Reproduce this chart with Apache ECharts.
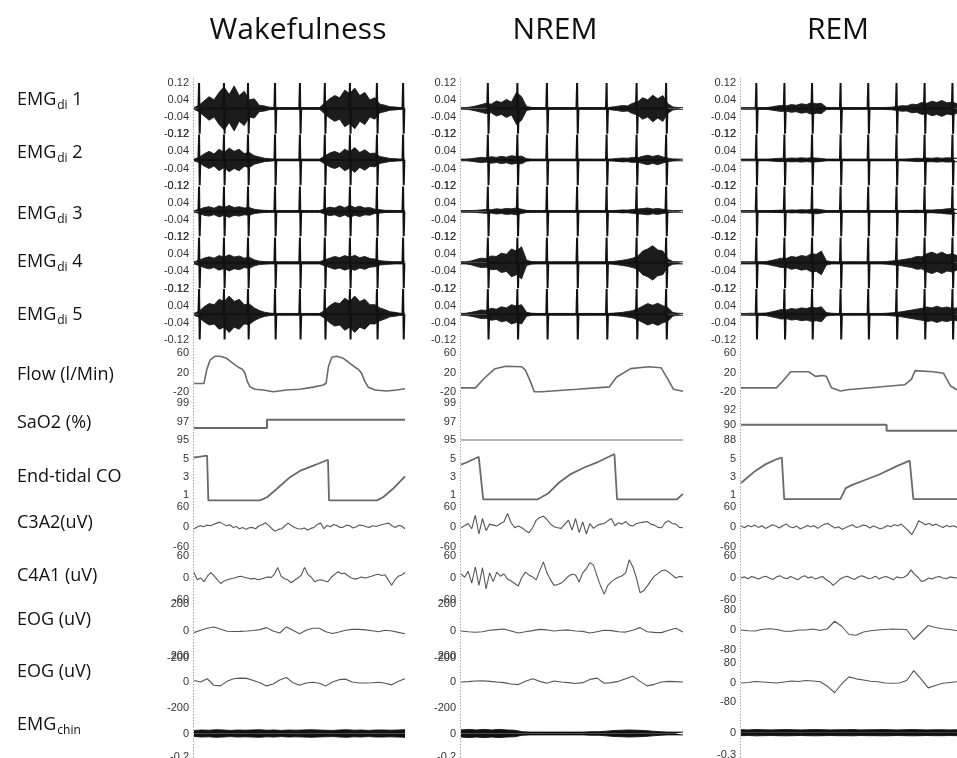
<!DOCTYPE html>
<html>
<head>
<meta charset="utf-8">
<script src="https://cdn.jsdelivr.net/npm/echarts@6/dist/echarts.min.js"></script>
<style>
  html, body { margin: 0; padding: 0; background: #fff; }
  #chart { width: 957px; height: 758px; }
</style>
</head>
<body>
<div id="chart"></div>
<script>
// ---------- data (x = % of each stage window) ----------
const stages = ['Wakefulness', 'NREM', 'REM'];
const channels = ['EMG{s|di} 1', 'EMG{s|di} 2', 'EMG{s|di} 3', 'EMG{s|di} 4', 'EMG{s|di} 5',
  'Flow (l/Min)', 'SaO2 (%)', 'End-tidal CO', 'C3A2(uV)', 'C4A1 (uV)', 'EOG (uV)', 'EOG (uV)', 'EMG{s|chin}'];

// tick labels
const emgTicks = [-0.12, -0.04, 0.04, 0.12];
const flowTicks = [-20, 20, 60];
const sao2TicksWake = [95, 97, 99];
const sao2TicksRem = [88, 90, 92];
const etco2Ticks = [1, 3, 5];
const eegTicks = [-60, 0, 60];
const eogTicksWake = [-200, 0, 200];
const eogTicksRem = [-80, 0, 80];
const chinTicksWake = [-0.2, 0];
const chinTicksRem = [-0.3, 0];

// ECG artefact (QRS) times in the diaphragm EMG
const spikesWake = [2.4, 14.2, 25.6, 38.4, 50.2, 62, 73.9, 86.7, 99.1];
const spikesNrem = [12.1, 25.4, 38.7, 52.3, 65.6, 79.1, 92.4];
const spikesRem = [7.1, 20.1, 32.9, 46.1, 58.9, 72, 85, 97.9];
const spikeAmp = [0.118, 0.118, 0.116, 0.118, 0.118];

// EMGdi envelopes (half amplitude, uniform samples)
const emgWake1 = [.004,.015,.035,.055,.04,.075,.1,.065,.105,.06,.08,.04,.045,.015,.012,.006,.005,.004,.004,.004,.004,.004,.004,.004,.004,.004,.025,.045,.06,.05,.085,.07,.095,.06,.075,.04,.05,.02,.015,.008,.007,.004,.004];
const emgWake2 = [.004,.012,.028,.04,.028,.05,.035,.055,.04,.05,.03,.035,.02,.014,.008,.006,.004,.004,.004,.004,.004,.004,.004,.004,.004,.004,.018,.032,.04,.03,.05,.038,.058,.035,.048,.03,.032,.016,.012,.007,.006,.004,.004];
const emgWake3 = [.004,.009,.018,.022,.015,.026,.018,.028,.018,.022,.016,.018,.01,.007,.005,.004,.004,.004,.004,.004,.004,.004,.004,.004,.004,.004,.012,.02,.016,.026,.017,.028,.018,.024,.016,.018,.01,.008,.005,.005,.004,.004,.004];
const emgWake4 = [.005,.012,.022,.028,.022,.034,.026,.038,.027,.032,.022,.026,.014,.008,.006,.005,.005,.005,.005,.005,.005,.005,.005,.005,.005,.005,.014,.022,.03,.024,.034,.026,.035,.024,.03,.02,.018,.01,.008,.006,.005,.005,.005];
const emgWake5 = [.004,.014,.035,.05,.045,.07,.06,.085,.06,.07,.045,.048,.03,.018,.01,.006,.004,.004,.004,.004,.004,.004,.004,.004,.004,.004,.018,.04,.055,.05,.075,.06,.085,.06,.07,.045,.045,.03,.022,.012,.009,.005,.004];

const emgNrem1 = [.004,.004,.007,.012,.018,.024,.02,.035,.028,.042,.03,.075,.055,.009,.005,.004,.004,.004,.004,.004,.004,.004,.004,.004,.004,.004,.004,.004,.004,.004,.007,.01,.014,.012,.024,.03,.05,.04,.062,.045,.06,.022,.007,.004,.004];
const emgNrem2 = [.004,.004,.006,.009,.012,.01,.015,.012,.017,.013,.02,.016,.018,.006,.004,.004,.004,.004,.004,.004,.004,.004,.004,.004,.004,.004,.004,.004,.004,.004,.005,.007,.009,.008,.012,.01,.017,.022,.016,.022,.014,.008,.005,.004,.004];
const emgNrem3 = [.004,.004,.004,.005,.007,.009,.008,.012,.01,.014,.012,.016,.01,.005,.004,.004,.004,.004,.004,.004,.004,.004,.004,.004,.004,.004,.004,.004,.004,.004,.004,.005,.007,.006,.009,.011,.013,.016,.011,.014,.01,.006,.004,.004,.004];
const emgNrem4 = [.005,.005,.009,.016,.022,.02,.032,.03,.045,.04,.065,.055,.075,.012,.006,.005,.005,.005,.005,.005,.005,.005,.005,.005,.005,.005,.005,.005,.005,.005,.006,.009,.012,.016,.022,.03,.055,.065,.08,.06,.055,.018,.006,.005,.005];
const emgNrem5 = [.004,.005,.009,.014,.02,.018,.028,.024,.035,.03,.045,.038,.045,.009,.005,.004,.004,.004,.004,.004,.004,.004,.004,.004,.004,.004,.004,.004,.004,.004,.005,.007,.009,.013,.017,.026,.038,.05,.042,.052,.04,.032,.008,.005,.004];

const emgRem1 = [.004,.004,.004,.004,.004,.004,.007,.011,.014,.012,.018,.015,.022,.018,.027,.022,.024,.005,.004,.004,.004,.004,.004,.004,.004,.004,.004,.004,.004,.005,.006,.009,.013,.012,.02,.018,.028,.024,.034,.028,.037,.026,.03,.022];
const emgRem2 = [.004,.004,.004,.004,.004,.004,.005,.007,.008,.007,.009,.008,.01,.008,.01,.009,.007,.004,.004,.004,.004,.004,.004,.004,.004,.004,.004,.004,.004,.004,.004,.004,.004,.005,.006,.008,.007,.009,.008,.01,.008,.01,.009,.008];
const emgRem3 = [.004,.004,.004,.004,.004,.004,.004,.005,.006,.005,.007,.006,.008,.007,.009,.011,.008,.004,.004,.004,.004,.004,.004,.004,.004,.004,.004,.004,.004,.004,.004,.004,.004,.004,.005,.006,.005,.007,.006,.008,.009,.012,.013,.009];
const emgRem4 = [.005,.005,.005,.005,.005,.006,.011,.016,.022,.02,.03,.026,.034,.03,.042,.04,.055,.01,.005,.005,.005,.005,.005,.005,.005,.005,.005,.005,.005,.006,.009,.011,.014,.018,.022,.03,.028,.042,.05,.04,.05,.038,.042,.034];
const emgRem5 = [.004,.004,.005,.005,.005,.006,.011,.016,.022,.02,.027,.024,.03,.027,.033,.03,.035,.008,.005,.004,.004,.004,.004,.004,.004,.004,.004,.004,.004,.005,.007,.009,.012,.016,.02,.024,.028,.034,.03,.038,.03,.034,.028,.03];

// airflow
const flowWakeT = [0, 4.7, 6, 7.6, 10, 12.3, 15.5, 18.5, 21, 23, 24.2, 25.3, 26.5, 28.9, 32.8, 37.6, 43.9, 50.2, 56.5, 61.3, 62.6, 63.7, 65.3, 67.6, 70.8, 73.9, 76.3, 77.9, 79.5, 81, 82.6, 85.8, 91.3, 96.1, 100];
const flowWakeV = [-3, -3, 25, 46, 54, 54, 49.5, 39, 31, 26.6, 18, 1, -9.6, -15, -16.5, -20, -16.5, -15, -10.5, -6, -2.5, 32, 51.7, 54, 49.5, 39, 31, 26.6, 18, 1, -10.5, -16.5, -18.6, -16.5, -14];
const flowNremT = [0, 6.5, 10.5, 15.3, 20.2, 27.4, 29, 31.4, 33, 36.2, 52.3, 66.8, 70, 76.4, 84.5, 90.1, 93.3, 95.7, 100];
const flowNremV = [-12, -12, 8, 28, 33, 32, 25, 0, -20, -20, -15, -10, 10, 28, 32, 30, 5, -15, -19];
const flowRemT = [0, 16.4, 19.7, 23, 31.3, 34.5, 37.8, 39.5, 41.9, 46, 49.3, 75.7, 78.9, 80.6, 88.8, 93.8, 97, 100];
const flowRemV = [-12, -12, 4, 21.6, 21.6, 12, 13.6, 12, -12, -18.4, -16, -5.6, 5.6, 24, 21.6, 18.4, -8, -16];

// oxygen saturation
const sao2WakeT = [0, 34.6, 34.6, 100];
const sao2WakeV = [96.3, 96.3, 97.2, 97.2];
const sao2NremT = [0, 100];
const sao2NremV = [95, 95];
const sao2RemT = [0, 67.4, 67.4, 100];
const sao2RemV = [90, 90, 89.2, 89.2];

// end-tidal CO2
const etco2WakeT = [0, 3, 6.2, 6.8, 31.3, 34.6, 39.3, 45.5, 50.2, 58.3, 63.5, 64, 86.7, 89.6, 94.3, 100];
const etco2WakeV = [5.2, 5.3, 5.4, 0.4, 0.4, 0.75, 1.7, 3.0, 3.7, 4.45, 4.95, 0.4, 0.4, 0.75, 1.7, 3.1];
const etco2NremT = [0, 3, 8, 8.8, 10, 34.6, 39.4, 44.2, 49, 55.5, 61.9, 69.1, 70.3, 97.3, 100];
const etco2NremV = [4.4, 4.7, 5.28, 5.2, 0.52, 0.52, 1.2, 2.4, 3.28, 4.08, 4.72, 5.6, 0.52, 0.52, 1.12];
const etco2RemT = [0, 6.6, 11.5, 16.4, 18.9, 20, 46, 48.5, 51, 55.9, 64, 72.4, 78.1, 79.8, 100];
const etco2RemV = [2.35, 3.7, 4.46, 5.0, 5.2, 0.54, 0.54, 1.77, 2.08, 2.54, 3.3, 4.27, 4.85, 0.54, 0.54];

// EEG (uniform samples)
const c3Wake = [-6, -1, 3, 0, 5, 3, 7, 11, 14, 8, 3, 6, -2, 1, -6, -2, -8, -3, -2, -6, 3, 6, 12, 4, -6, -14, -8, -6, 3, 11, 4, -2, -6, -7, -4, -10, -5, -2, 7, 11, -6, 4, 0, 7, 4, -2, -1, 5, 3, -4, 0, 5, 4, 0, -2, 3, 1, 4, 7, 9, 11, 3, -2, 4, 2, -6];
const c4Wake = [15, -5, 0, -10, 5, 15, 6, -5, -15, -8, -5, -2, 0, 3, 5, 2, 0, -3, -1, -5, -3, 0, 3, 1, 10, 29, 5, -2, -5, -13, -6, 0, 7, 29, 10, 2, -10, -6, -5, -8, -10, 2, 10, 17, 12, 13, 6, 0, -3, -1, 3, 0, 2, 5, 8, 10, 7, 9, -5, -20, -5, 5, 8, 15];
const c3Nrem = [-3, 3, 10, -6, 35, -22, 25, -12, 8, 5, 2, 10, 15, 40, 12, -3, 2, -3, -12, -18, -3, 20, 28, 32, 22, 8, 0, -3, -5, 8, 20, -10, 25, -18, 15, -22, 10, -5, 4, 8, 10, 18, 25, 3, 12, 8, 16, 5, 2, 10, 12, 14, 16, 8, 5, -2, -3, 12, 18, 10, 8, -2, -3];
const c4Nrem = [11, 2, 18, -14, 30, -20, 28, -30, 14, -10, 16, 5, 11, -3, -8, -15, -22, 2, 16, 8, 3, -5, 20, 44, 14, -5, -20, -18, -14, -5, 5, 10, 8, -11, 14, 25, 42, 35, 5, -22, -44, -20, -10, -3, 2, 6, 14, 50, 30, 0, -40, -35, -22, -8, 5, 12, 20, 22, 16, 8, 0, 4, 3];
const c3Rem = [2, -3, 4, 0, 5, -2, 3, -5, 0, 6, 2, -4, 3, 8, 0, -3, 2, -6, -2, 4, 0, 3, -5, 2, 8, 10, 2, -4, 0, -8, -3, 2, 6, -2, 0, 5, 3, -4, 2, -2, -6, -3, 4, 0, 6, 3, 8, -2, -12, -24, -5, 18, 12, 6, 10, 4, 8, 2, -2, 4, 0, 3, -2];
const c4Rem = [0, 3, -2, 4, 1, -3, 2, 5, 0, -4, 3, 6, 1, -2, 4, 0, -5, 2, 6, 0, 3, -3, 1, 4, -4, -10, -20, -12, -3, 2, 5, 0, -4, 2, 6, 3, -2, 0, 5, -3, 2, 4, 0, -5, 3, 0, 2, 8, 22, 10, 2, -10, -6, 0, -3, 2, 4, 0, -2, 3, 1, 0];

// EOG (uniform samples)
const eogWake1 = [-12, 5, 20, 30, 15, -2, -4, -3, 0, 4, 10, 25, 0, -15, 30, 5, -20, 5, 20, 20, -5, -18, -8, 5, 12, 12, 8, 2, -5, 5, 0, -10, -20];
const eogWake2 = [12, 0, 25, -25, -30, 5, 25, 30, 28, 12, -5, -30, -15, 15, 35, -5, -25, -8, -2, -10, -30, 0, 18, 22, 0, -8, -8, -6, -2, -10, -22, 5, 25];
const eogNrem1 = [0, -5, -9, -6, 5, 10, 15, 0, -15, -5, 3, 12, 8, 0, 6, 8, 0, -3, -15, -5, 5, 3, -5, -8, 5, 25, -5, -10, -12, 5, 20, -8];
const eogNrem2 = [0, 3, 8, 10, 5, 0, -5, -15, -20, 5, 25, 5, -10, 8, 0, -5, -12, -5, 20, 30, -10, -5, 5, 25, 45, 5, -30, -18, 0, 5, 3, 0];
const eogRem1 = [0, -3, -4, 3, 5, 2, -5, -5, 0, 0, 4, -2, 5, 35, 15, -18, -21, -8, -3, 0, 2, 4, 3, 2, -38, -10, 18, 10, 5, 2, -3];
const eogRem2 = [-2, 0, 4, 2, 0, -2, 2, 6, 4, 8, 6, 3, -15, -42, -5, 23, 15, 10, 5, 3, -2, -3, -2, 8, 49, 15, -22, -12, -3, 0, 3];

// chin EMG envelopes
const chinWake = [.025,.03,.028,.032,.03,.026,.03,.028,.03,.032,.028,.03,.026,.03,.028,.03,.032,.03,.028,.026,.03,.032,.028,.03,.026,.03,.03,.028,.03,.032];
const chinNrem = [.03,.035,.03,.035,.03,.035,.03,.028,.015,.012,.012,.012,.012,.012,.012,.012,.012,.015,.015,.02,.025,.028,.03,.028,.025,.02,.015,.012,.012,.012];
const chinRem = [.04,.038,.042,.04,.038,.04,.042,.04,.038,.04,.042,.04,.038,.04,.04,.042,.038,.04,.04,.042,.04,.038,.04,.042,.04,.038,.04,.04,.038,.04];

// ---------- layout ----------
const colLeft = [194, 461, 741];
const colWidth = [211, 222, 216];
const titleX = [298, 555, 838];
const rowTop = [82.7, 134.2, 185.7, 237.1, 288.6, 353.3, 403, 459.3, 507, 556, 604, 656, 710];
const rowBottom = [134.2, 185.7, 237.1, 288.6, 340, 391.7, 440, 495, 546.5, 600, 658, 708, 757];
const rowTopRem = [82.7, 134.2, 185.7, 237.1, 288.6, 353.3, 409.5, 459.3, 507, 556, 610, 663, 710.4];
const rowBottomRem = [134.2, 185.7, 237.1, 288.6, 340, 391.7, 440, 495, 546.5, 600, 650, 702, 755];
const labelY = [100, 153, 214, 262, 315, 375, 423, 477, 523, 576, 620, 672, 725];

const stageData = [
  { emg: [emgWake1, emgWake2, emgWake3, emgWake4, emgWake5], spikes: spikesWake,
    flow: [flowWakeT, flowWakeV], sao2: [sao2WakeT, sao2WakeV], etco2: [etco2WakeT, etco2WakeV],
    c3: c3Wake, c4: c4Wake, eog1: eogWake1, eog2: eogWake2, chin: chinWake,
    sao2Ticks: sao2TicksWake, eogTicks: eogTicksWake, chinTicks: chinTicksWake, sao2Color: '#6a6a6a' },
  { emg: [emgNrem1, emgNrem2, emgNrem3, emgNrem4, emgNrem5], spikes: spikesNrem,
    flow: [flowNremT, flowNremV], sao2: [sao2NremT, sao2NremV], etco2: [etco2NremT, etco2NremV],
    c3: c3Nrem, c4: c4Nrem, eog1: eogNrem1, eog2: eogNrem2, chin: chinNrem,
    sao2Ticks: sao2TicksWake, eogTicks: eogTicksWake, chinTicks: chinTicksWake, sao2Color: '#b4b4b4' },
  { emg: [emgRem1, emgRem2, emgRem3, emgRem4, emgRem5], spikes: spikesRem,
    flow: [flowRemT, flowRemV], sao2: [sao2RemT, sao2RemV], etco2: [etco2RemT, etco2RemV],
    c3: c3Rem, c4: c4Rem, eog1: eogRem1, eog2: eogRem2, chin: chinRem,
    sao2Ticks: sao2TicksRem, eogTicks: eogTicksRem, chinTicks: chinTicksRem, sao2Color: '#6a6a6a' }
];

// ---------- build ----------
const grids = [], xAxes = [], yAxes = [], series = [];
const tickFont = "'Liberation Sans Narrow', 'Liberation Sans', sans-serif";

function addGrid(c, r, ticks, min, max) {
  const top = (c === 2 ? rowTopRem : rowTop)[r];
  const bottom = (c === 2 ? rowBottomRem : rowBottom)[r];
  const g = grids.length;
  grids.push({ left: colLeft[c], width: colWidth[c], top: top, height: bottom - top, outerBoundsMode: 'none' });
  xAxes.push({ gridIndex: g, type: 'value', min: 0, max: 100, show: false });
  yAxes.push({
    gridIndex: g, type: 'value', min: min, max: max,
    axisLine: { show: false }, axisTick: { show: false }, splitLine: { show: false },
    axisLabel: { customValues: ticks, fontSize: 11, color: '#333', margin: 5, fontFamily: tickFont }
  });
  return g;
}

function uniform(arr) {
  return arr.map((v, i) => [i * 100 / (arr.length - 1), v]);
}
function pairs(T, V) {
  return T.map((t, i) => [t, V[i]]);
}
function addLine(g, data, color, width) {
  series.push({
    type: 'line', xAxisIndex: g, yAxisIndex: g, data: data, symbol: 'none', clip: false,
    silent: true, animation: false, lineStyle: { color: color, width: width }
  });
}
function addBand(g, env, color) {
  [1, -1].forEach(sign => {
    series.push({
      type: 'line', xAxisIndex: g, yAxisIndex: g, symbol: 'none', clip: false, silent: true, animation: false,
      data: env.map((v, i) => [i * 100 / (env.length - 1), sign * v]),
      lineStyle: { color: color, width: 0.9 },
      areaStyle: { color: color, opacity: 1 }
    });
  });
}
function spikeTrace(times, amp) {
  const d = [];
  times.forEach(t => { d.push([t - 0.3, 0], [t, amp], [t + 0.3, -amp], [t + 0.6, 0]); });
  return d;
}

stageData.forEach((s, c) => {
  for (let r = 0; r < 5; r++) {
    const g = addGrid(c, r, emgTicks, -0.12, 0.12);
    addBand(g, s.emg[r], '#1c1c1c');
    addLine(g, spikeTrace(s.spikes, spikeAmp[r]), '#111', 2);
  }
  let g = addGrid(c, 5, flowTicks, -20, 60);
  addLine(g, pairs(s.flow[0], s.flow[1]), '#6a6a6a', 1.6);
  g = addGrid(c, 6, s.sao2Ticks, s.sao2Ticks[0], s.sao2Ticks[2]);
  addLine(g, pairs(s.sao2[0], s.sao2[1]), s.sao2Color, 2);
  g = addGrid(c, 7, etco2Ticks, 1, 5);
  addLine(g, pairs(s.etco2[0], s.etco2[1]), '#6a6a6a', 1.8);
  g = addGrid(c, 8, eegTicks, -60, 60);
  addLine(g, uniform(s.c3), '#555', 1.1);
  g = addGrid(c, 9, eegTicks, -60, 60);
  addLine(g, uniform(s.c4), '#555', 1.1);
  g = addGrid(c, 10, s.eogTicks, s.eogTicks[0], s.eogTicks[2]);
  addLine(g, uniform(s.eog1), '#555', 1.1);
  g = addGrid(c, 11, s.eogTicks, s.eogTicks[0], s.eogTicks[2]);
  addLine(g, uniform(s.eog2), '#555', 1.1);
  g = addGrid(c, 12, s.chinTicks, s.chinTicks[0], -s.chinTicks[0]);
  addBand(g, s.chin, '#111');
});

const graphics = [];
stages.forEach((name, c) => {
  graphics.push({
    type: 'text', x: titleX[c], y: 30, silent: true,
    style: { text: name, fontSize: 30, fontFamily: "'Open Sans', sans-serif", fill: '#111', align: 'center', verticalAlign: 'middle' }
  });
  graphics.push({
    type: 'line', silent: true,
    shape: { x1: colLeft[c] - 0.5, y1: 78, x2: colLeft[c] - 0.5, y2: 758 },
    style: { stroke: '#a8a8a8', lineWidth: 1, lineDash: [1.5, 1.5] }
  });
});
channels.forEach((label, r) => {
  graphics.push({
    type: 'text', x: 17, y: labelY[r], silent: true,
    style: {
      text: label, fontSize: 18, fontFamily: "'Open Sans', sans-serif", fill: '#111', verticalAlign: 'middle',
      rich: { s: { fontSize: 12, fontFamily: "'Open Sans', sans-serif", fill: '#111', padding: [12, 0, 0, 1] } }
    }
  });
});

const chart = echarts.init(document.getElementById('chart'), null, { renderer: 'canvas' });
chart.setOption({
  animation: false,
  backgroundColor: '#fff',
  grid: grids,
  xAxis: xAxes,
  yAxis: yAxes,
  series: series,
  graphic: graphics
});
</script>
</body>
</html>
